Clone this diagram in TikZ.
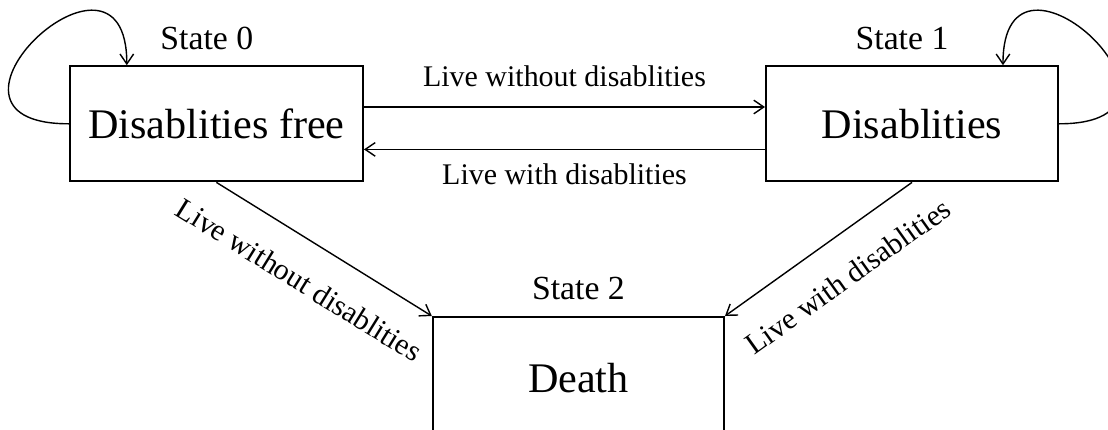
\documentclass[tikz,border=0pt]{standalone}
\usepackage{fontspec}
\setmainfont{Liberation Serif}
\usetikzlibrary{positioning}
\usetikzlibrary{arrows.meta}

\begin{document}
\begin{tikzpicture}[
    estado/.style={draw, line width=1.4pt, minimum width=7.33cm, minimum height=2.88cm, font=\fontsize{30}{36}\selectfont},
    etiqueta/.style={inner sep=0pt, font=\fontsize{24}{29}\selectfont},
    paso/.style={inner sep=0pt, font=\fontsize{21.3}{26}\selectfont},
    flecha/.style={-{Straight Barb[length=2.5mm,width=3.4mm]}, line width=1pt}]
            \clip (0,0) rectangle (27.7,10.725);
            % Estados
            \node[estado] (libre) at (5.41,7.63) {Disablities free};
            \node[estado, minimum width=7.3cm] (disab) at (22.8,7.63) {Disablities};
            \node[estado, minimum width=7.28cm, minimum height=3.05cm] (muerte) at (14.46,1.275) {Death};
            \node[etiqueta, above=0.39cm of libre, xshift=-0.24cm] (e0) {State 0};
            \node[etiqueta, above=0.39cm of disab, xshift=-0.25cm] (e1) {State 1};
            \node[etiqueta, above=0.41cm of muerte] (e2) {State 2};
            \coordinate (fin0) at ([xshift=1.45cm]libre.north west);
            \coordinate (fin1) at ([xshift=-1.4cm]disab.north east);

            % Transiciones
            \draw[flecha] (libre.west) .. controls +(-4.1,0) and +(0,3.75) .. (fin0);
            \draw[flecha] (disab.east) .. controls +(4.1,0) and +(0,3.75) .. (fin1);
            \draw[flecha] ([yshift=0.42cm]libre.east) -- node[paso, above=0.5cm] {Live without disablities} ([yshift=0.42cm]disab.west);
            \draw[flecha] ([yshift=-0.64cm]disab.west) -- node[paso, below=0.35cm] {Live with disablities} ([yshift=-0.64cm]libre.east);
            \draw[flecha] (libre.south) -- node[paso, sloped, below=0.7cm, pos=0.48] {Live without disablities} (muerte.north west);
            \draw[flecha] (disab.south) -- node[paso, sloped, below=0.7cm, pos=0.465] {Live with disablities} (muerte.north east);
          \end{tikzpicture}
\end{document}
